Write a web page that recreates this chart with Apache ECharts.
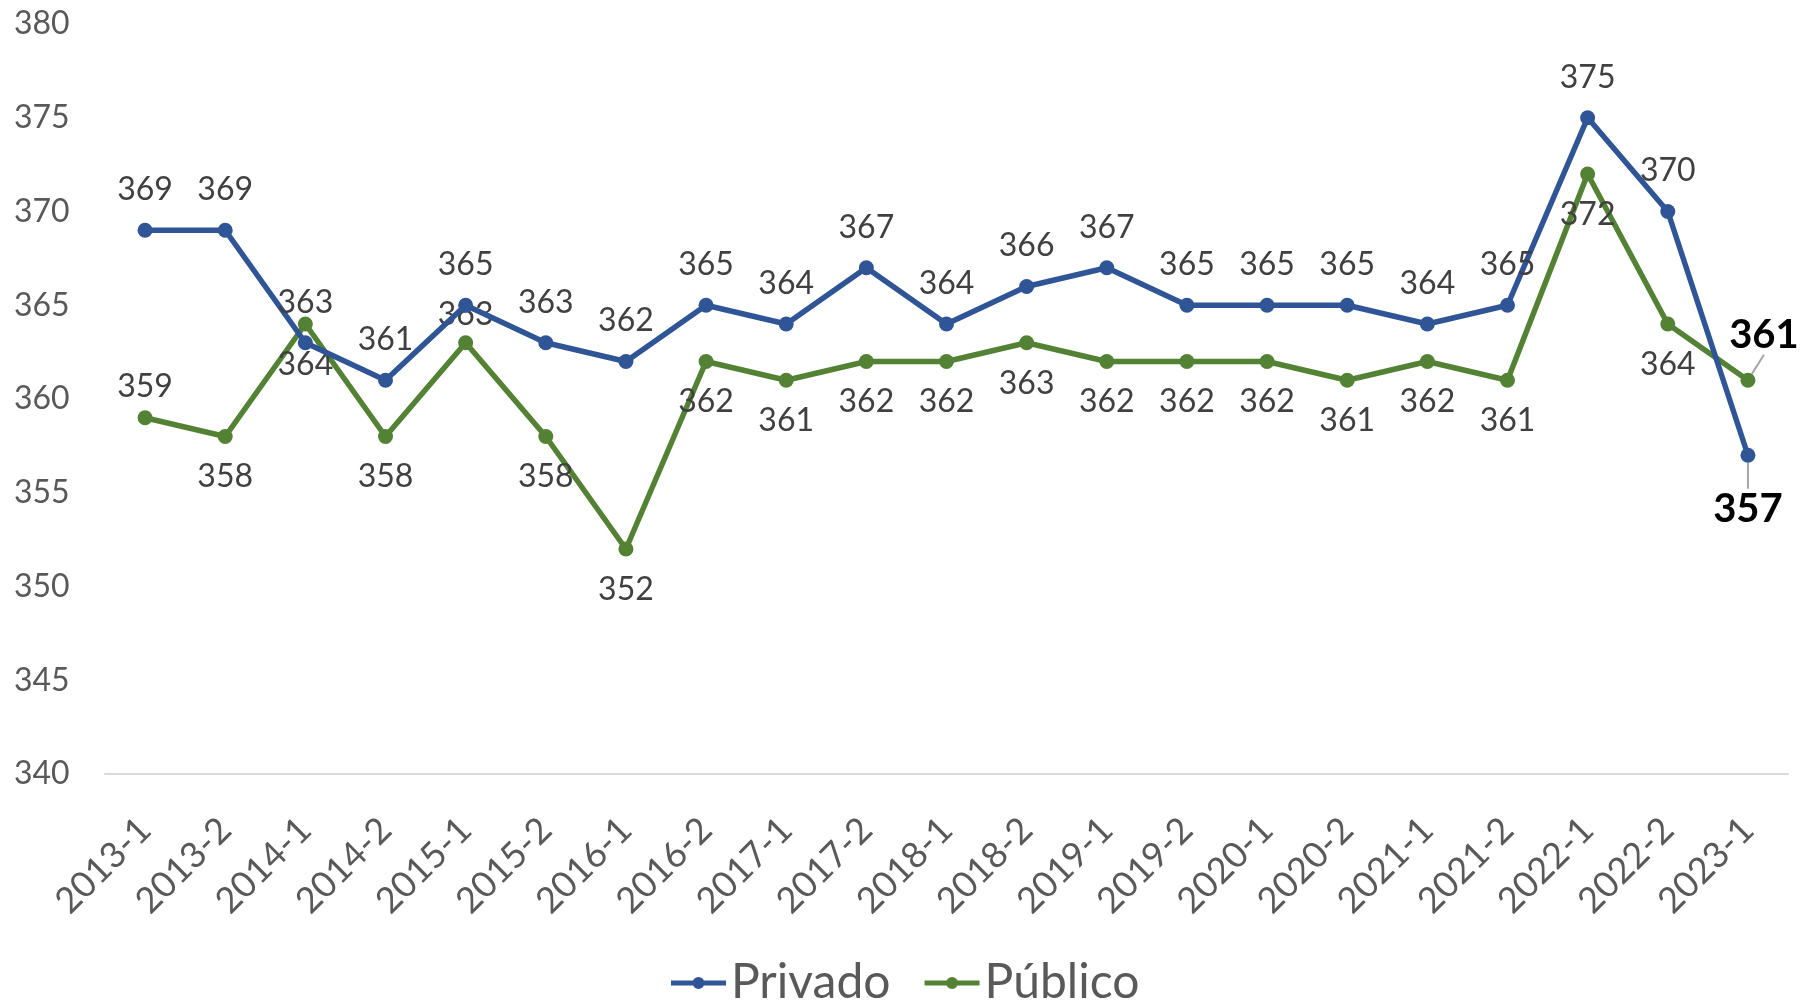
<!DOCTYPE html>
<html>
<head>
<meta charset="utf-8">
<script src="https://cdn.jsdelivr.net/npm/echarts@6/dist/echarts.min.js"></script>
<style>
  html, body { margin: 0; padding: 0; background: #fff; }
  #chart { width: 1800px; height: 1002px; }
</style>
</head>
<body>
<div id="chart"></div>
<script>
const periods = ['2013-1', '2013-2', '2014-1', '2014-2', '2015-1', '2015-2', '2016-1', '2016-2', '2017-1', '2017-2',
  '2018-1', '2018-2', '2019-1', '2019-2', '2020-1', '2020-2', '2021-1', '2021-2', '2022-1', '2022-2', '2023-1'];
const privado = [369, 369, 363, 361, 365, 363, 362, 365, 364, 367, 364, 366, 367, 365, 365, 365, 364, 365, 375, 370, 357];
const publico = [359, 358, 364, 358, 363, 358, 352, 362, 361, 362, 362, 363, 362, 362, 362, 361, 362, 361, 372, 364, 361];

const FONT = 'Lato';
const BLUE = '#2f5597';
const GREEN = '#548235';
const last = periods.length - 1;

// legend marker: thick line with a dot in the middle (same winding so the dot stays filled)
const legendIcon = 'path://M0,4.5h55v5h-55z M21.5,7a6,6 0 1,1 12,0a6,6 0 1,1 -12,0z';

// público labels sit below the points, except a couple of them
const publicoAbove = { 0: 8, 4: 5 };

const boldLabel = { fontWeight: 'bold', fontSize: 40, color: '#000' };
const leader = { show: true, lineStyle: { color: '#a6a6a6', width: 2 } };

const privadoData = privado.map((v, i) => {
  if (i === last) {
    return { value: v, label: Object.assign({ position: 'bottom', distance: 6 }, boldLabel), labelLine: leader };
  }
  return v;
});

const publicoData = publico.map((v, i) => {
  if (i === last) {
    return { value: v, label: Object.assign({ position: 'top', distance: 6 }, boldLabel), labelLine: leader };
  }
  if (publicoAbove[i] !== undefined) {
    return { value: v, label: { position: 'top', distance: publicoAbove[i] } };
  }
  return v;
});

const chart = echarts.init(document.getElementById('chart'));

chart.setOption({
  backgroundColor: '#fff',
  animation: false,
  textStyle: { fontFamily: FONT },
  grid: { left: 105, right: 12, top: 24, bottom: 228 },
  legend: {
    data: [
      { name: 'Privado', icon: legendIcon },
      { name: 'Público', icon: legendIcon }
    ],
    left: 666,
    top: 954,
    itemWidth: 55,
    itemHeight: 13,
    itemGap: 34,
    textStyle: { fontFamily: FONT, fontSize: 48, color: '#595959', padding: [0, 0, 0, 0] }
  },
  xAxis: {
    type: 'category',
    data: periods,
    boundaryGap: true,
    axisLine: { lineStyle: { color: '#d9d9d9', width: 2 } },
    axisTick: { show: false },
    axisLabel: { rotate: 45, interval: 0, margin: 50, fontSize: 36, color: '#595959', fontFamily: FONT }
  },
  yAxis: {
    type: 'value',
    min: 340,
    max: 380,
    interval: 5,
    axisLine: { show: false },
    axisTick: { show: false },
    splitLine: { show: false },
    axisLabel: { align: 'left', margin: 91, fontSize: 32, color: '#595959', fontFamily: FONT }
  },
  series: [
    {
      name: 'Privado',
      type: 'line',
      data: privadoData,
      symbol: 'circle',
      symbolSize: 15,
      lineStyle: { color: BLUE, width: 5.5 },
      itemStyle: { color: BLUE },
      label: { show: true, position: 'top', distance: 17, fontSize: 32, color: '#404040', fontFamily: FONT },
      labelLine: { show: false },
      labelLayout: function (params) {
        if (params.dataIndex === last) return { dy: 20 };
      },
      z: 3
    },
    {
      name: 'Público',
      type: 'line',
      data: publicoData,
      symbol: 'circle',
      symbolSize: 15,
      lineStyle: { color: GREEN, width: 5.5 },
      itemStyle: { color: GREEN },
      label: { show: true, position: 'bottom', distance: 17, fontSize: 32, color: '#404040', fontFamily: FONT },
      labelLine: { show: false },
      labelLayout: function (params) {
        if (params.dataIndex === last) return { dx: 16, dy: -12 };
      },
      z: 2
    }
  ]
});
</script>
</body>
</html>
